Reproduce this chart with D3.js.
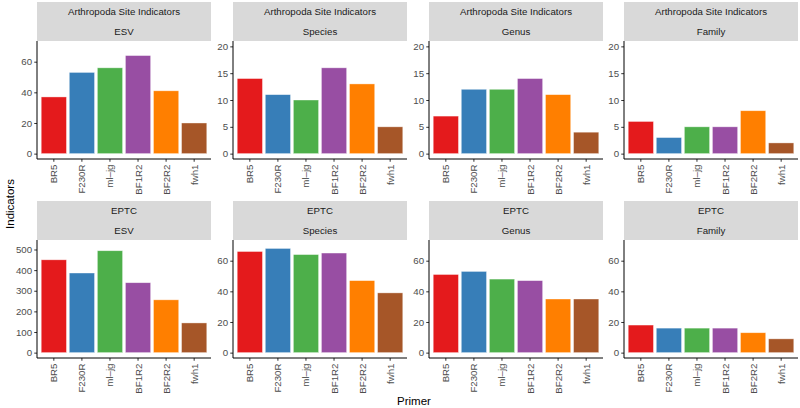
<!DOCTYPE html>
<html>
<head>
<meta charset="utf-8">
<script src="https://cdn.jsdelivr.net/npm/d3@7"></script>
<style>
  html, body { margin: 0; padding: 0; background: #fff; }
  svg { display: block; }
  text { font-family: "Liberation Sans", Arial, Helvetica, sans-serif; }
</style>
</head>
<body>
<svg id="chart" width="800" height="408"></svg>
<script>
// ---- data ----
const primers = ["BR5", "F230R", "ml\u2013jg", "BF1R2", "BF2R2", "fwh1"];
const groups = ["Arthropoda Site Indicators", "EPTC"];
const levels = ["ESV", "Species", "Genus", "Family"];
const colors = ["#E41A1C", "#377EB8", "#4DAF4A", "#984EA3", "#FF7F00", "#A65628"];

const arthESV     = [37, 53, 56, 64, 41, 20];
const arthSpecies = [14, 11, 10, 16, 13, 5];
const arthGenus   = [7, 12, 12, 14, 11, 4];
const arthFamily  = [6, 3, 5, 5, 8, 2];

const eptcESV     = [450, 386, 494, 339, 256, 144];
const eptcSpecies = [66, 68, 64, 65, 47, 39];
const eptcGenus   = [51, 53, 48, 47, 35, 35];
const eptcFamily  = [18, 16, 16, 16, 13, 9];

const arthLimits = [70, 20, 20, 20];
const eptcLimits = [520, 70, 70, 70];
const arthTicks = [[0, 20, 40, 60], [0, 5, 10, 15, 20], [0, 5, 10, 15, 20], [0, 5, 10, 15, 20]];
const eptcTicks = [[0, 100, 200, 300, 400, 500], [0, 20, 40, 60], [0, 20, 40, 60], [0, 20, 40, 60]];

const rowsData = [
  { group: groups[0], values: [arthESV, arthSpecies, arthGenus, arthFamily], limits: arthLimits, ticks: arthTicks },
  { group: groups[1], values: [eptcESV, eptcSpecies, eptcGenus, eptcFamily], limits: eptcLimits, ticks: eptcTicks }
];

// ---- layout ----
const svg = d3.select("#chart");
const colX = [37, 233, 429, 624];
const panelW = 174;
const stripTop = [2, 201];
const stripH = 39;
const panelH = 118;
const fs = 9.7;

rowsData.forEach((row, r) => {
  levels.forEach((lev, c) => {
    const x0 = colX[c];
    const sTop = stripTop[r];
    const pTop = sTop + stripH;
    const g = svg.append("g");

    // strip
    g.append("rect").attr("x", x0).attr("y", sTop).attr("width", panelW).attr("height", stripH)
      .attr("fill", "#D9D9D9");
    g.append("text").attr("x", x0 + panelW / 2).attr("y", sTop + stripH * 0.25)
      .attr("text-anchor", "middle").attr("dominant-baseline", "central")
      .attr("font-size", fs).attr("fill", "#1A1A1A").text(row.group);
    g.append("text").attr("x", x0 + panelW / 2).attr("y", sTop + stripH * 0.75)
      .attr("text-anchor", "middle").attr("dominant-baseline", "central")
      .attr("font-size", fs).attr("fill", "#1A1A1A").text(lev);

    const M = row.limits[c];
    const y = d3.scaleLinear().domain([-0.05 * M, 1.05 * M]).range([pTop + panelH, pTop]);
    const x = d3.scaleBand().domain(primers).range([x0, x0 + panelW])
      .paddingInner(0.1).paddingOuter(0.15);

    // bars
    g.selectAll("rect.bar").data(row.values[c]).enter().append("rect")
      .attr("class", "bar")
      .attr("x", (d, i) => x(primers[i]))
      .attr("width", x.bandwidth())
      .attr("y", d => y(d))
      .attr("height", d => y(0) - y(d))
      .attr("fill", (d, i) => colors[i])
      .attr("stroke", "white").attr("stroke-opacity", 0.55).attr("stroke-width", 0.7);

    // y axis
    const yAxis = d3.axisLeft(y).tickValues(row.ticks[c]).tickSize(2.75).tickPadding(2.2).tickFormat(d3.format("d"));
    const ya = g.append("g").attr("transform", `translate(${x0},0)`).call(yAxis);
    ya.select(".domain").remove();
    ya.selectAll(".tick line").attr("stroke", "#333333").attr("stroke-width", 1);
    ya.selectAll(".tick text").attr("font-size", fs).attr("fill", "#4D4D4D");
    g.append("line").attr("x1", x0).attr("x2", x0).attr("y1", pTop).attr("y2", pTop + panelH)
      .attr("stroke", "black").attr("stroke-width", 1);

    // x axis
    const xAxis = d3.axisBottom(x).tickSize(2.75).tickPadding(2.2);
    const xa = g.append("g").attr("transform", `translate(0,${pTop + panelH})`).call(xAxis);
    xa.select(".domain").remove();
    xa.selectAll(".tick line").attr("stroke", "#333333").attr("stroke-width", 1);
    xa.selectAll(".tick text").attr("font-size", fs).attr("fill", "#4D4D4D")
      .attr("transform", "rotate(-90)")
      .attr("text-anchor", "end").attr("dominant-baseline", "central")
      .attr("x", -5.5).attr("y", 0).attr("dy", null);
    g.append("line").attr("x1", x0).attr("x2", x0 + panelW).attr("y1", pTop + panelH).attr("y2", pTop + panelH)
      .attr("stroke", "black").attr("stroke-width", 1);
  });
});

// axis titles
svg.append("text").attr("x", 414).attr("y", 401).attr("text-anchor", "middle")
  .attr("dominant-baseline", "central").attr("font-size", 11.5).attr("fill", "black").text("Primer");
svg.append("text").attr("transform", "translate(10,204) rotate(-90)").attr("text-anchor", "middle")
  .attr("dominant-baseline", "central").attr("font-size", 11.5).attr("fill", "black").text("Indicators");
</script>
</body>
</html>
